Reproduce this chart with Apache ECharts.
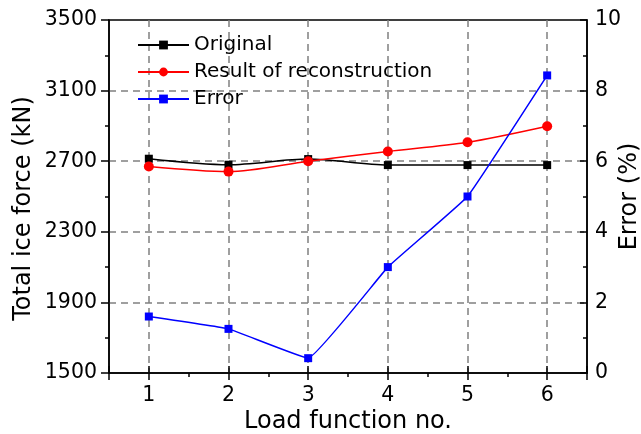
<!DOCTYPE html>
<html>
<head>
<meta charset="utf-8">
<script src="https://cdn.jsdelivr.net/npm/echarts@6/dist/echarts.min.js"></script>
<style>html,body{margin:0;padding:0;background:#fff}#c{width:641px;height:434px}</style>
</head>
<body>
<div id="c"></div>
<script>
const loadNo = [1, 2, 3, 4, 5, 6];
const original = [2714, 2680, 2712, 2678, 2678, 2678];
const reconstruction = [2670, 2641, 2700, 2755, 2807, 2898];
const errorPct = [1.6, 1.25, 0.42, 3.0, 5.0, 8.43];
const seriesNames = ['Original', 'Result of reconstruction', 'Error'];
const xTitle = 'Load function no.';
const yLeftTitle = 'Total ice force (kN)';
const yRightTitle = 'Error (%)';

const FONT = 'DejaVu Sans';
const pairs = arr => loadNo.map((x, i) => [x, arr[i]]);
const axisLineStyle = { color: '#000', width: 1.5 };
const splitStyle = { color: '#808080', width: 1.5, type: [7, 5] };
const plain = v => String(v);

const chart = echarts.init(document.getElementById('c'), null, { renderer: 'canvas' });
chart.setOption({
  animation: false,
  backgroundColor: '#fff',
  grid: { left: 109, right: 54, top: 20, bottom: 61, containLabel: false, outerBoundsMode: 'none',
    show: true, borderColor: '#000', borderWidth: 1.5, backgroundColor: 'transparent' },
  legend: {
    orient: 'vertical', left: 132, top: 30, itemWidth: 51, itemHeight: 11, itemGap: 7,
    textStyle: { fontFamily: FONT, fontSize: 20, color: '#000' },
    data: seriesNames
  },
  xAxis: [
    {
      type: 'value', min: 0.5, max: 6.5, splitNumber: 6,
      name: xTitle, nameLocation: 'middle', nameGap: 37, nameMoveOverlap: false,
      nameTextStyle: { fontFamily: FONT, fontSize: 24, color: '#000' },
      axisLine: { lineStyle: axisLineStyle },
      axisTick: { show: true, length: 7, lineStyle: { color: '#000', width: 1.5 } },
      axisLabel: { fontFamily: FONT, fontSize: 20.5, color: '#000', margin: 12,
        formatter: v => Number.isInteger(v) ? String(v) : '' },
      splitLine: { show: true, showMinLine: false, showMaxLine: false, lineStyle: splitStyle }
    },
    {
      type: 'value', min: 0.5, max: 6.5, interval: 1, position: 'bottom',
      axisLine: { show: false },
      axisTick: { show: true, length: 4, lineStyle: { color: '#000', width: 1.5 } },
      axisLabel: { show: false }, splitLine: { show: false }
    },
    {
      type: 'value', min: 0.5, max: 6.5, splitNumber: 6, position: 'bottom',
      axisLine: { show: false },
      axisTick: { show: true, inside: true, length: 7, lineStyle: { color: '#000', width: 1.5 } },
      axisLabel: { show: false }, splitLine: { show: false }
    }
  ],
  yAxis: [
    {
      type: 'value', min: 1500, max: 3500, interval: 400, position: 'left',
      name: yLeftTitle, nameLocation: 'middle', nameGap: 73, nameRotate: 90, nameMoveOverlap: false,
      nameTextStyle: { fontFamily: FONT, fontSize: 24, color: '#000', padding: [0, 24, 0, 0] },
      axisLine: { show: true, lineStyle: axisLineStyle },
      axisTick: { show: true, length: 8, lineStyle: { color: '#000', width: 1.5 } },
      minorTick: { show: true, splitNumber: 2, length: 4, lineStyle: { color: '#000', width: 1.5 } },
      axisLabel: { fontFamily: FONT, fontSize: 20.5, color: '#000', margin: 12, formatter: plain },
      splitLine: { show: true, showMinLine: false, showMaxLine: false, lineStyle: splitStyle }
    },
    {
      type: 'value', min: 0, max: 10, interval: 2, position: 'right',
      name: yRightTitle, nameLocation: 'middle', nameGap: 31, nameRotate: 90, nameMoveOverlap: false,
      nameTextStyle: { fontFamily: FONT, fontSize: 24, color: '#000' },
      axisLine: { show: true, lineStyle: axisLineStyle },
      axisTick: { show: true, inside: true, length: 7, lineStyle: { color: '#000', width: 1.5 } },
      minorTick: { show: true, splitNumber: 2, length: 4, lineStyle: { color: '#000', width: 1.5 } },
      axisLabel: { fontFamily: FONT, fontSize: 20.5, color: '#000', margin: 8, formatter: plain },
      splitLine: { show: false }
    }
  ],
  series: [
    { name: seriesNames[0], type: 'line', xAxisIndex: 0, yAxisIndex: 0, data: pairs(original),
      smooth: 0.3, symbol: 'rect', symbolSize: 8, color: '#000',
      lineStyle: { color: '#000', width: 1.5 }, itemStyle: { color: '#000' }, z: 3 },
    { name: seriesNames[1], type: 'line', xAxisIndex: 0, yAxisIndex: 0, data: pairs(reconstruction),
      smooth: 0.3, symbol: 'circle', symbolSize: 10, color: '#ff0000',
      lineStyle: { color: '#ff0000', width: 1.5 }, itemStyle: { color: '#ff0000' }, z: 4 },
    { name: seriesNames[2], type: 'line', xAxisIndex: 0, yAxisIndex: 1, data: pairs(errorPct),
      smooth: 0.08, symbol: 'rect', symbolSize: 8, color: '#0000ff',
      lineStyle: { color: '#0000ff', width: 1.5 }, itemStyle: { color: '#0000ff' }, z: 5 }
  ]
});
</script>
</body>
</html>
